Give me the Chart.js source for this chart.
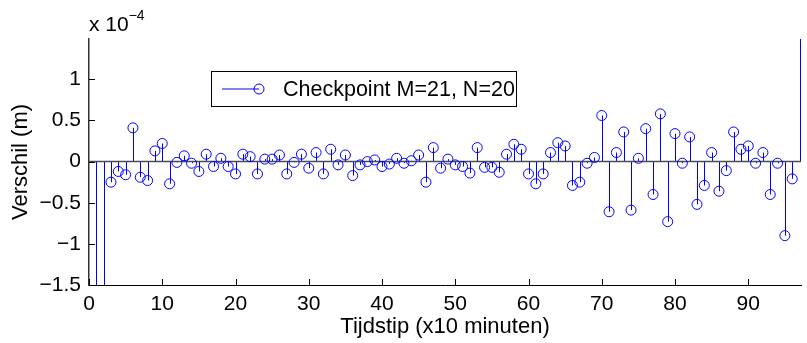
<!DOCTYPE html>
<html>
<head>
<meta charset="utf-8">
<script src="https://cdn.jsdelivr.net/npm/chart.js@4"></script>
<style>
  html, body { margin: 0; padding: 0; background: #fff; }
  #wrap { width: 807px; height: 343px; }
</style>
</head>
<body>
<div id="wrap"><canvas id="stemChart" width="807" height="343"></canvas></div>
<script>
// time index (x10 minutes)
const tijdstip = [
  1, 2, 3, 4, 5, 6, 7, 8, 9, 10, 11, 12, 13, 14, 15, 16, 17, 18, 19, 20,
  21, 22, 23, 24, 25, 26, 27, 28, 29, 30, 31, 32, 33, 34, 35, 36, 37, 38, 39, 40,
  41, 42, 43, 44, 45, 46, 47, 48, 49, 50, 51, 52, 53, 54, 55, 56, 57, 58, 59, 60,
  61, 62, 63, 64, 65, 66, 67, 68, 69, 70, 71, 72, 73, 74, 75, 76, 77, 78, 79, 80,
  81, 82, 83, 84, 85, 86, 87, 88, 89, 90, 91, 92, 93, 94, 95, 96, 97
];
// difference in units of 1e-4 m
const verschil = [
  -2.0, -2.0, -0.25, -0.12, -0.16, 0.41, -0.19, -0.23, 0.13, 0.22,
  -0.27, -0.01, 0.07, -0.02, -0.12, 0.09, -0.06, 0.04, -0.06, -0.15,
  0.09, 0.06, -0.15, 0.03, 0.03, 0.08, -0.15, -0.01, 0.09, -0.08,
  0.11, -0.15, 0.15, -0.04, 0.08, -0.17, -0.04, 0.0, 0.02, -0.06,
  -0.03, 0.04, -0.02, 0.01, 0.08, -0.25, 0.17, -0.08, 0.03, -0.04,
  -0.06, -0.14, 0.17, -0.07, -0.07, -0.13, 0.09, 0.21, 0.15, -0.15,
  -0.27, -0.15, 0.11, 0.23, 0.19, -0.29, -0.25, -0.02, 0.05, 0.56,
  -0.61, 0.11, 0.36, -0.59, 0.04, 0.40, -0.40, 0.58, -0.73, 0.34,
  -0.02, 0.30, -0.52, -0.29, 0.11, -0.36, -0.11, 0.36, 0.15, 0.19,
  -0.02, 0.11, -0.40, -0.02, -0.90, -0.21, 2.5
];
const xTicks = [0, 10, 20, 30, 40, 50, 60, 70, 80, 90];
const yTicks = [-1.5, -1, -0.5, 0, 0.5, 1];
const seriesLabel = 'Checkpoint M=21, N=20';

const FONT = "'Liberation Sans', Arial, Helvetica, sans-serif";
const BLUE = '#0000ff';

// stems, baseline, inward ticks, legend and exponent label
Chart.register({
    id: 'stem-plugin',
    beforeDatasetsDraw: (chart) => {
        const ctx = chart.ctx;
        const area = chart.chartArea;
        const xs = chart.scales.x, ys = chart.scales.y;
        const y0 = ys.getPixelForValue(0);
        ctx.save();
        ctx.beginPath();
        ctx.rect(area.left, area.top, area.right - area.left, area.bottom - area.top);
        ctx.clip();
        ctx.strokeStyle = BLUE;
        ctx.lineWidth = 1;
        tijdstip.forEach((t, i) => {
            const px = Math.round(xs.getPixelForValue(t)) + 0.5;
            ctx.beginPath();
            ctx.moveTo(px, y0);
            ctx.lineTo(px, ys.getPixelForValue(verschil[i]));
            ctx.stroke();
        });
        ctx.restore();
        // baseline at zero
        ctx.save();
        ctx.strokeStyle = '#4d4d4d';
        ctx.lineWidth = 1.5;
        ctx.beginPath();
        ctx.moveTo(area.left, y0);
        ctx.lineTo(area.right, y0);
        ctx.stroke();
        ctx.restore();
    },
    afterDraw: (chart) => {
        const ctx = chart.ctx;
        const area = chart.chartArea;
        const xs = chart.scales.x, ys = chart.scales.y;
        ctx.save();
        ctx.strokeStyle = '#000';
        ctx.lineWidth = 1;
        xTicks.forEach(v => {
            const px = Math.round(xs.getPixelForValue(v)) + 0.5;
            ctx.beginPath();
            ctx.moveTo(px, area.bottom);
            ctx.lineTo(px, area.bottom - 6);
            ctx.stroke();
        });
        yTicks.forEach(v => {
            const py = Math.round(ys.getPixelForValue(v)) + 0.5;
            ctx.beginPath();
            ctx.moveTo(area.left, py);
            ctx.lineTo(area.left + 6, py);
            ctx.stroke();
        });

        // exponent label
        ctx.fillStyle = '#000';
        ctx.textBaseline = 'alphabetic';
        ctx.textAlign = 'left';
        ctx.font = '21px ' + FONT;
        ctx.fillText('x 10', area.left, 31);
        const w = ctx.measureText('x 10').width;
        ctx.font = '14px ' + FONT;
        ctx.fillText('\u22124', area.left + w, 20);

        // legend
        const lx = 211, ly = 71, lw = 305, lh = 35;
        ctx.fillStyle = '#fff';
        ctx.fillRect(lx, ly, lw, lh);
        ctx.strokeStyle = '#000';
        ctx.lineWidth = 1;
        ctx.strokeRect(lx + 0.5, ly + 0.5, lw, lh);
        const my = ly + lh / 2 + 0.5;
        ctx.strokeStyle = BLUE;
        ctx.beginPath();
        ctx.moveTo(222, my);
        ctx.lineTo(259, my);
        ctx.stroke();
        ctx.beginPath();
        ctx.arc(259, my, 5, 0, Math.PI * 2);
        ctx.stroke();
        ctx.fillStyle = '#000';
        ctx.font = '21.5px ' + FONT;
        ctx.fillText(seriesLabel, 283, 96);
        ctx.restore();
    }
});

const ctx = document.getElementById('stemChart').getContext('2d');
const stemChart = new Chart(ctx, {
    type: 'scatter',
    data: {
        datasets: [{
            label: seriesLabel,
            data: tijdstip.map((t, i) => ({ x: t, y: verschil[i] })),
            showLine: false,
            pointStyle: 'circle',
            pointRadius: 5,
            pointHoverRadius: 5,
            pointBorderWidth: 1,
            borderColor: BLUE,
            backgroundColor: 'rgba(0,0,0,0)',
            clip: 0
        }]
    },
    options: {
        responsive: false,
        animation: false,
        events: [],
        layout: { padding: { top: 39, right: 5, left: 0, bottom: 0 } },
        plugins: {
            legend: { display: false },
            tooltip: { enabled: false }
        },
        scales: {
            x: {
                type: 'linear',
                min: 0,
                max: 97.2,
                afterBuildTicks: (scale) => { scale.ticks = xTicks.map(v => ({ value: v })); },
                afterFit: (scale) => { scale.height = 58; },
                grid: { display: false, drawTicks: false },
                border: { display: true, color: '#000', width: 1 },
                ticks: {
                    color: '#000',
                    padding: 7,
                    maxRotation: 0,
                    autoSkip: false,
                    font: { family: FONT, size: 21 }
                },
                title: {
                    display: true,
                    text: 'Tijdstip (x10 minuten)',
                    color: '#000',
                    font: { family: FONT, size: 22 },
                    padding: { top: 0, bottom: 3 }
                }
            },
            y: {
                min: -1.5,
                max: 1.49,
                afterBuildTicks: (scale) => { scale.ticks = yTicks.map(v => ({ value: v })); },
                afterFit: (scale) => { scale.width = 89; },
                grid: { display: false, drawTicks: false },
                border: { display: true, color: '#333', width: 1.5 },
                ticks: {
                    color: '#000',
                    padding: 8,
                    autoSkip: false,
                    font: { family: FONT, size: 21 },
                    callback: (v) => String(v).replace('-', '\u2212')
                },
                title: {
                    display: true,
                    text: 'Verschil (m)',
                    color: '#000',
                    font: { family: FONT, size: 22 },
                    padding: { top: 8, bottom: 0 }
                }
            }
        }
    }
});
</script>
</body>
</html>
